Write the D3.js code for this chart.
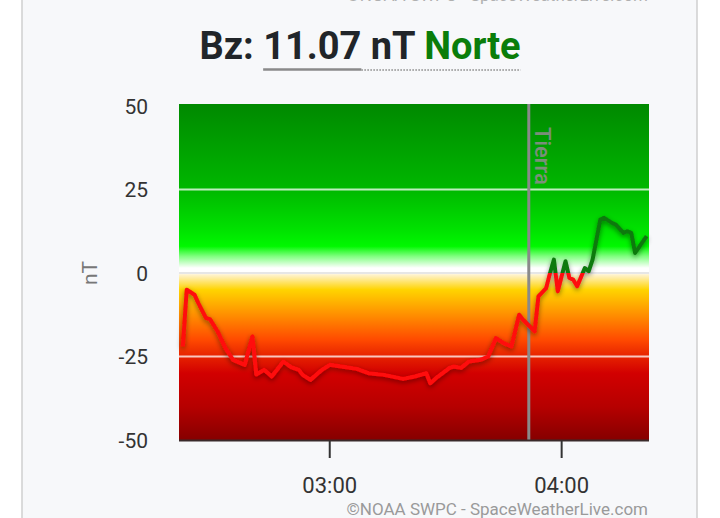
<!DOCTYPE html>
<html>
<head>
<meta charset="utf-8">
<script src="https://cdn.jsdelivr.net/npm/d3@7"></script>
<style>
  html, body { margin: 0; padding: 0; background: #ffffff; }
  #viz { width: 720px; height: 518px; }
  text { font-family: Roboto, "Noto Sans", sans-serif; }
</style>
</head>
<body>
<div id="viz"></div>
<script>
const width = 720;
const height = 518;

// Bz readings (nT), one per time
const times = ["02:22","02:23","02:25","02:26","02:28","02:29","02:31","02:33","02:35","02:38",
  "02:40","02:41","02:43","02:45","02:48","02:50","02:52","02:53","02:55","02:58",
  "03:00","03:03","03:07","03:10","03:14","03:19","03:22","03:25","03:26","03:28",
  "03:31","03:32","03:34","03:36","03:39","03:41","03:43","03:45","03:47","03:49",
  "03:50","03:53","03:54","03:56","03:57","03:58","03:59","04:01","04:02","04:03",
  "04:04","04:06","04:07","04:08","04:10","04:11","04:13","04:14","04:16","04:17",
  "04:18","04:19","04:22"];
const bz = [-22, -5, -6.5, -9, -13.5, -13.8, -17.5, -22.5, -26, -27.5,
  -19, -30.4, -29, -31, -26.5, -28.2, -29, -30.5, -32, -29,
  -27.5, -28, -28.7, -30, -30.5, -31.7, -31, -30, -33, -31,
  -28.4, -28, -28.4, -26.5, -26, -25, -19.5, -21, -22, -12.5,
  -14, -17.5, -7, -4.5, 0, 4, -5.5, 3.5, -1.5, -2,
  -4, 1.5, 0.5, 4, 16, 16.5, 15, 14.5, 12, 12.5,
  12, 6, 11.07];

const yTicks = [50, 25, 0, -25, -50];
const xTicks = ["03:00", "04:00"];
const timeRange = ["02:21:00", "04:22:36"];
const earthTime = "03:51:30";
const earthLabel = "Tierra";
const titleLead = "Bz: ";
const titleValue = "11.07";
const titleUnit = " nT ";
const titleDir = "Norte";
const credit = "©NOAA SWPC - SpaceWeatherLive.com";

const parseHM = d3.timeParse("%H:%M");
const parseHMS = d3.timeParse("%H:%M:%S");
const data = times.map((t, i) => ({ time: parseHM(t), value: bz[i] }));

const svg = d3.select("#viz").append("svg")
  .attr("width", width)
  .attr("height", height);

// card
svg.append("rect").attr("x", 22).attr("y", -2).attr("width", 675).attr("height", height + 4)
  .attr("fill", "#f7f8fa").attr("stroke", "#cfcfcf").attr("stroke-width", 1.5);

const x = d3.scaleTime()
  .domain(timeRange.map(parseHMS))
  .range([179, 649]);

const y = d3.scaleLinear()
  .domain([-50, 50])
  .range([440, 106]);

const defs = svg.append("defs");

// background colour bands
const bgStops = [
  [50, "#008a00"], [25, "#00b800"], [13, "#00e200"], [8, "#00f800"], [5, "#80ff80"],
  [1.5, "#ffffff"], [0, "#ffffff"], [-0.5, "#fff3d0"], [-5, "#ffd400"], [-10, "#ffa600"],
  [-15, "#ff7800"], [-20, "#ff4a00"], [-25, "#e62200"], [-30, "#d20000"], [-40, "#b60000"],
  [-50, "#860000"]
];
const bg = defs.append("linearGradient").attr("id", "bg")
  .attr("gradientUnits", "userSpaceOnUse")
  .attr("x1", 0).attr("x2", 0).attr("y1", y(50)).attr("y2", y(-50));
bg.selectAll("stop").data(bgStops).join("stop")
  .attr("offset", d => (y(d[0]) - y(50)) / (y(-50) - y(50)))
  .attr("stop-color", d => d[1]);

const lineGrad = defs.append("linearGradient").attr("id", "lineGrad")
  .attr("gradientUnits", "userSpaceOnUse")
  .attr("x1", 0).attr("x2", 0).attr("y1", y(50)).attr("y2", y(-50));
const zeroOff = (y(0) - y(50)) / (y(-50) - y(50));
lineGrad.append("stop").attr("offset", zeroOff).attr("stop-color", "#0b7a0b");
lineGrad.append("stop").attr("offset", zeroOff).attr("stop-color", "#ff0a0a");

const shadow = defs.append("filter").attr("id", "shadow")
  .attr("x", "-10%").attr("y", "-10%").attr("width", "120%").attr("height", "120%");
shadow.append("feDropShadow").attr("dx", 0).attr("dy", 2).attr("stdDeviation", 2.5)
  .attr("flood-color", "#000").attr("flood-opacity", 0.45);

svg.append("rect")
  .attr("x", x.range()[0]).attr("y", y(50) - 2)
  .attr("width", x.range()[1] - x.range()[0])
  .attr("height", y(-50) - y(50) + 2)
  .attr("fill", "url(#bg)");

// grid lines
svg.append("g").selectAll("line")
  .data(yTicks.filter(d => d !== 50 && d !== -50))
  .join("line")
  .attr("x1", x.range()[0]).attr("x2", x.range()[1])
  .attr("y1", d => y(d)).attr("y2", d => y(d))
  .attr("stroke", d => d === 0 ? "#e6e6e6" : "#ffffff")
  .attr("stroke-opacity", d => d === 0 ? 1 : 0.75)
  .attr("stroke-width", 2);

// y labels
svg.append("g").selectAll("text")
  .data(yTicks)
  .join("text")
  .attr("x", 148)
  .attr("y", d => y(d))
  .attr("dy", "0.36em")
  .attr("text-anchor", "end")
  .attr("font-size", 21)
  .attr("fill", "#333")
  .text(d => d);

svg.append("text")
  .attr("transform", `translate(97,${y(0)}) rotate(-90)`)
  .attr("text-anchor", "middle")
  .attr("font-size", 21)
  .attr("fill", "#777")
  .text("nT");

// earth line
const ex = x(parseHMS(earthTime));
svg.append("line")
  .attr("x1", ex).attr("x2", ex).attr("y1", y(50) - 2).attr("y2", y(-50))
  .attr("stroke", "#8a8a8a").attr("stroke-width", 3);
svg.append("text")
  .attr("transform", `translate(${ex + 6},${y(50) + 21}) rotate(90)`)
  .attr("font-size", 22)
  .attr("font-weight", 500)
  .attr("fill", "#8c8c8c")
  .attr("fill-opacity", 0.9)
  .text(earthLabel);

// the Bz line
const line = d3.line()
  .x(d => x(d.time))
  .y(d => y(d.value));

svg.append("path")
  .datum(data)
  .attr("d", line)
  .attr("fill", "none")
  .attr("stroke", "url(#lineGrad)")
  .attr("stroke-width", 4)
  .attr("stroke-linejoin", "round")
  .attr("filter", "url(#shadow)");

// bottom axis
svg.append("line")
  .attr("x1", x.range()[0]).attr("x2", x.range()[1])
  .attr("y1", y(-50) + 0.5).attr("y2", y(-50) + 0.5)
  .attr("stroke", "#3a2a2a").attr("stroke-width", 2);

const xt = svg.append("g").selectAll("g")
  .data(xTicks.map(parseHM))
  .join("g")
  .attr("transform", d => `translate(${x(d)},0)`);
xt.append("line")
  .attr("y1", 441).attr("y2", 458)
  .attr("stroke", "#333").attr("stroke-width", 2);
xt.append("text")
  .attr("y", 493)
  .attr("text-anchor", "middle")
  .attr("font-size", 22)
  .attr("fill", "#333")
  .text(d3.timeFormat("%H:%M"));

// credits
svg.append("text").attr("x", 648).attr("y", 515).attr("text-anchor", "end")
  .attr("font-size", 17).attr("fill", "#9a9a9a").text(credit);
svg.append("text").attr("x", 648).attr("y", 1).attr("text-anchor", "end")
  .attr("font-size", 17).attr("fill", "#b0b0b0").text(credit);

// title
const title = svg.append("text")
  .attr("x", 360).attr("y", 59)
  .attr("text-anchor", "middle")
  .attr("font-size", 38)
  .attr("font-weight", "bold")
  .attr("fill", "#212529");
title.append("tspan").text(titleLead);
const tv = title.append("tspan").text(titleValue);
title.append("tspan").text(titleUnit);
const td = title.append("tspan").attr("fill", "#0a7d0a").text(titleDir);

const tvStart = tv.node().getStartPositionOfChar(0).x;
const tvEnd = tv.node().getEndPositionOfChar(titleValue.length - 1).x;
const tdEnd = td.node().getEndPositionOfChar(titleDir.length - 1).x;
svg.append("line")
  .attr("x1", tvEnd).attr("x2", tdEnd).attr("y1", 70).attr("y2", 70)
  .attr("stroke", "#888").attr("stroke-width", 1.5).attr("stroke-dasharray", "1.5,1.5");
svg.append("line")
  .attr("x1", tvStart).attr("x2", tvEnd).attr("y1", 69.5).attr("y2", 69.5)
  .attr("stroke", "#8a8a8a").attr("stroke-width", 2.5);
</script>
</body>
</html>
